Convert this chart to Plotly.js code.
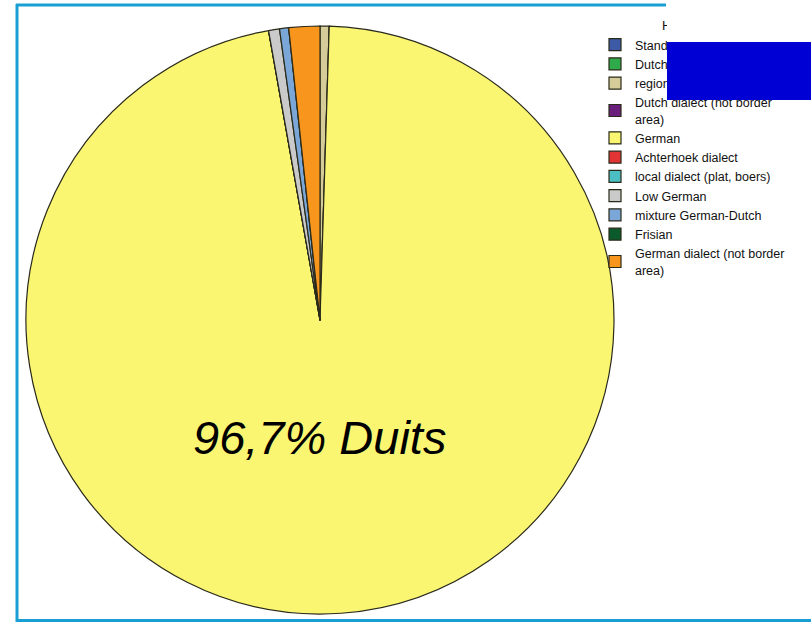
<!DOCTYPE html>
<html>
<head>
<meta charset="utf-8">
<script src="https://cdn.plot.ly/plotly-3.0.1.min.js"></script>
<style>html,body{margin:0;padding:0;background:#fff;}#chart{width:811px;height:622px;}</style>
</head>
<body>
<div id="chart"></div>
<script>
const labels = [
  "Standard Dutch",
  "Dutch dialect (border area)",
  "regional language",
  "Dutch dialect (not border<br>area)",
  "German",
  "Achterhoek dialect",
  "local dialect (plat, boers)",
  "Low German",
  "mixture German-Dutch",
  "Frisian",
  "German dialect (not border<br>area)"
];
const values = [0, 0, 0.5, 0, 96.7, 0, 0, 0.6, 0.5, 0, 1.7];
const colors = ["#3c5aa6", "#2eaa4a", "#d6cc9a", "#6b1f7c", "#faf672", "#e23434",
                "#4bbfc4", "#cacaca", "#7aa6d8", "#0b5a2c", "#f7951d"];
const legendTitle = "Home language";
const centerText = "96,7% Duits";

const W = 811, H = 622;
const px = v => v / W, py = v => 1 - v / H;
const FONT = "Arial, 'Liberation Sans', sans-serif";

const trace = {
  type: "pie",
  labels: labels,
  values: values,
  sort: false,
  direction: "clockwise",
  rotation: 0,
  textinfo: "none",
  hoverinfo: "label+percent",
  marker: { colors: colors, line: { color: "#2a2a1a", width: 1.2 } },
  domain: { x: [px(26), px(614)], y: [py(614), py(26)] }
};

const layout = {
  width: W, height: H,
  margin: { l: 0, r: 0, t: 0, b: 0 },
  paper_bgcolor: "#fff",
  showlegend: true,
  legend: {
    x: px(595), y: py(30), xanchor: "left", yanchor: "top",
    bgcolor: "rgba(0,0,0,0)",
    traceorder: "normal",
    font: { family: FONT, size: 12.5, color: "#111" }
  },
  shapes: [
    { type: "line", xref: "paper", yref: "paper", x0: px(17), x1: px(17), y0: py(4), y1: py(622), line: { color: "#1a9fd4", width: 3 } },
    { type: "line", xref: "paper", yref: "paper", x0: px(16), x1: px(666), y0: py(5), y1: py(5), line: { color: "#1a9fd4", width: 3 } },
    { type: "line", xref: "paper", yref: "paper", x0: px(16), x1: px(811), y0: py(620.5), y1: py(620.5), line: { color: "#1a9fd4", width: 3 } }
  ],
  annotations: [
    { text: centerText, xref: "paper", yref: "paper", x: px(319), y: py(437), xanchor: "center", yanchor: "middle",
      showarrow: false, font: { family: FONT, size: 47, color: "#000", style: "italic" } },
    { text: legendTitle, xref: "paper", yref: "paper", x: px(661), y: py(25), xanchor: "left", yanchor: "middle",
      showarrow: false, borderpad: 0, font: { family: FONT, size: 13, color: "#111" } },
    { text: " ", xref: "paper", yref: "paper", x: px(667), y: 1, xanchor: "left", yanchor: "top",
      showarrow: false, width: 144, height: 42, bgcolor: "#ffffff", borderpad: 0, borderwidth: 0 },
    { text: " ", xref: "paper", yref: "paper", x: px(667), y: py(42), xanchor: "left", yanchor: "top",
      showarrow: false, width: 144, height: 58, bgcolor: "#0000d4", borderpad: 0, borderwidth: 0 }
  ]
};

Plotly.newPlot("chart", [trace], layout, { displayModeBar: false, staticPlot: true });
</script>
</body>
</html>
